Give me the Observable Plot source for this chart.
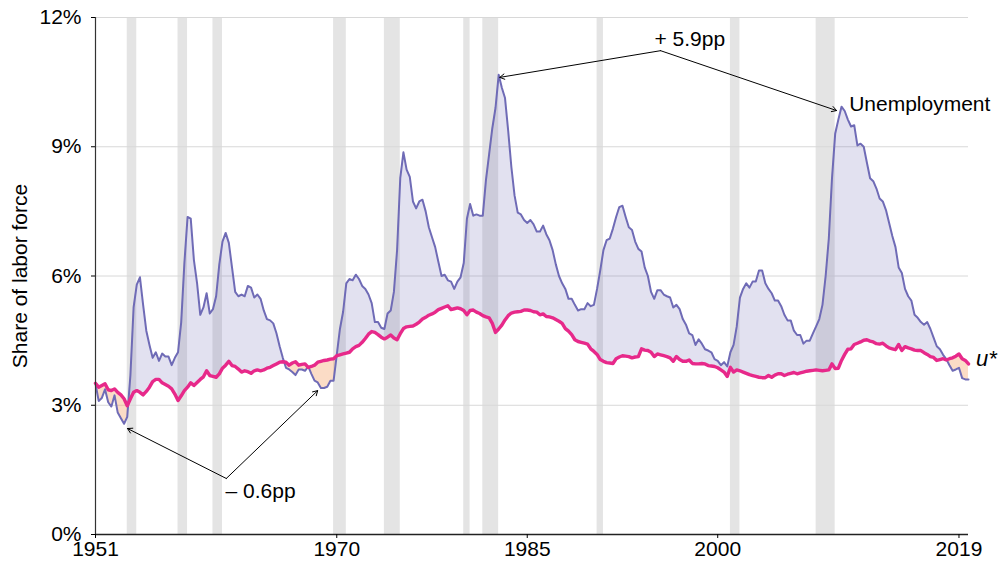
<!DOCTYPE html>
<html><head><meta charset="utf-8">
<script src="https://cdn.jsdelivr.net/npm/d3@7"></script>
<script src="https://cdn.jsdelivr.net/npm/@observablehq/plot@0.6"></script>
<style>body{margin:0;background:#fff;} #chart svg{display:block}</style>
</head><body><div id="chart"></div>
<script>
// Quarterly series, starting 1951Q1
const startYear = 1951;
const unemployment = [
3.50,3.10,3.17,3.37, 3.07,2.97,3.23,2.83, 2.70,2.57,2.73,3.70, 5.27,5.80,5.97,5.33,
4.73,4.40,4.10,4.23, 4.03,4.20,4.13,4.13, 3.93,4.10,4.23,4.93, 6.30,7.37,7.33,6.37,
5.83,5.10,5.27,5.60, 5.13,5.23,5.53,6.27, 6.80,7.00,6.77,6.20, 5.63,5.53,5.57,5.53,
5.77,5.73,5.50,5.57, 5.47,5.20,5.00,4.97, 4.90,4.67,4.37,4.10, 3.87,3.83,3.77,3.70,
3.83,3.83,3.80,3.90, 3.73,3.57,3.53,3.40, 3.40,3.43,3.57,3.57, 4.17,4.77,5.17,5.83,
5.93,5.90,6.03,5.93, 5.77,5.70,5.57,5.37, 4.93,4.93,4.80,4.77, 5.13,5.20,5.63,6.60,
8.27,8.87,8.47,8.30, 7.73,7.57,7.73,7.77, 7.50,7.13,6.90,6.67, 6.33,6.00,6.03,5.90,
5.87,5.70,5.87,5.97, 6.30,7.33,7.67,7.40, 7.43,7.40,7.40,8.23, 8.83,9.43,9.90,10.67,
10.37,10.13,9.37,8.53, 7.87,7.47,7.43,7.30, 7.23,7.30,7.20,7.03, 7.03,7.17,6.97,6.83,
6.60,6.27,6.00,5.83, 5.70,5.47,5.47,5.33, 5.20,5.23,5.23,5.37, 5.30,5.33,5.70,6.13,
6.60,6.83,6.87,7.10, 7.37,7.60,7.63,7.37, 7.13,7.07,6.80,6.63, 6.57,6.20,6.00,5.63,
5.47,5.67,5.67,5.57, 5.53,5.50,5.27,5.33, 5.23,5.00,4.87,4.67, 4.63,4.40,4.53,4.43,
4.30,4.27,4.23,4.07, 4.03,3.93,4.00,3.90, 4.23,4.40,4.83,5.50, 5.70,5.83,5.73,5.87,
5.87,6.13,6.13,5.83, 5.70,5.60,5.43,5.43, 5.30,5.10,4.97,4.97, 4.73,4.63,4.63,4.43,
4.50,4.50,4.67,4.83, 5.00,5.33,6.00,6.87, 8.27,9.30,9.63,9.93, 9.83,9.63,9.47,9.50,
9.03,9.07,9.00,8.63, 8.27,8.20,8.03,7.80, 7.73,7.53,7.23,6.93, 6.67,6.20,6.07,5.70,
5.53,5.43,5.10,5.03, 4.93,4.87,4.93,4.77, 4.57,4.37,4.30,4.17, 4.07,3.93,3.80,3.83,
3.87,3.63,3.60,3.60
];
const uStar = [
3.51,3.42,3.46,3.50, 3.36,3.34,3.38,3.30, 3.24,3.15,2.99,3.15, 3.30,3.34,3.30,3.24,
3.32,3.42,3.55,3.60, 3.60,3.52,3.48,3.44, 3.38,3.26,3.11,3.22, 3.34,3.42,3.52,3.46,
3.53,3.60,3.66,3.80, 3.69,3.67,3.65,3.73, 3.86,3.93,4.02,3.92, 3.90,3.84,3.77,3.80,
3.78,3.74,3.80,3.82, 3.80,3.82,3.86,3.88, 3.92,3.96,4.00,4.01, 4.00,3.93,3.98,4.01,
3.93,3.95,3.96,3.88, 3.90,3.93,4.00,4.02, 4.04,4.05,4.07,4.08, 4.15,4.17,4.19,4.21,
4.23,4.31,4.36,4.39, 4.46,4.55,4.65,4.71, 4.69,4.64,4.58,4.54, 4.58,4.63,4.56,4.52,
4.66,4.78,4.82,4.83, 4.84,4.88,4.93,5.00, 5.04,5.09,5.12,5.16, 5.22,5.25,5.28,5.31,
5.22,5.24,5.26,5.24, 5.20,5.10,5.20,5.21, 5.16,5.13,5.08,5.05, 5.03,4.90,4.69,4.77,
4.86,4.98,5.08,5.14, 5.16,5.17,5.18,5.21, 5.21,5.20,5.17,5.16, 5.10,5.12,5.06,5.05,
5.03,4.99,4.95,4.90, 4.78,4.72,4.64,4.52, 4.48,4.46,4.44,4.42, 4.31,4.25,4.18,4.06,
4.02,3.99,3.98,3.97, 4.08,4.12,4.15,4.14, 4.13,4.10,4.12,4.13, 4.31,4.28,4.27,4.23,
4.13,4.19,4.17,4.15, 4.13,4.10,4.02,4.13, 4.06,4.02,4.02,4.05, 3.97,3.96,3.96,3.97,
3.96,3.92,3.91,3.90, 3.87,3.82,3.77,3.67, 3.88,3.77,3.82,3.80, 3.77,3.74,3.71,3.69,
3.67,3.65,3.64,3.64, 3.69,3.65,3.70,3.73, 3.73,3.69,3.72,3.74, 3.76,3.73,3.75,3.77,
3.79,3.80,3.81,3.82, 3.81,3.80,3.81,3.82, 3.96,3.85,3.86,4.04, 4.18,4.30,4.31,4.41,
4.44,4.47,4.51,4.52, 4.49,4.47,4.43,4.42, 4.44,4.38,4.33,4.31, 4.29,4.41,4.27,4.36,
4.33,4.31,4.28,4.27, 4.27,4.22,4.18,4.13, 4.11,4.04,4.06,4.08, 4.05,4.08,4.10,4.14,
4.19,4.08,4.04,3.96
];
// NBER recessions (peak quarter -> trough quarter)
const recessionStart = [1953.5, 1957.5, 1960.25, 1969.75, 1973.75, 1980.0, 1981.5, 1990.5, 2001.0, 2007.75];
const recessionEnd   = [1954.25, 1958.25, 1961.0, 1970.75, 1975.0, 1980.5, 1982.75, 1991.0, 2001.75, 2009.25];
const xTicks = [1951, 1970, 1985, 2000, 2019];
const yTicks = [0, 3, 6, 9, 12];
const gridValues = [3, 6, 9, 12];
// annotations (data coordinates)
const gapLabels = ["+ 5.9pp", "\u2013 0.6pp"];
const gapLabelX = [1997.8, 1964.0];
const gapLabelY = [11.5, 1.0];
const arrowFromX = [1995.5, 1995.5, 1961.3, 1961.3];
const arrowFromY = [11.23, 11.23, 1.30, 1.30];
const arrowToX = [1982.84, 2009.36, 1953.52, 1968.5];
const arrowToY = [10.61, 9.84, 2.46, 3.34];

const rows = unemployment.map((u, i) => ({t: startYear + i / 4, u, s: uStar[i]}));
// insert crossing points for the shaded gaps
const pts = [];
for (let i = 0; i < rows.length; i++) {
  const a = rows[i];
  pts.push(a);
  const b = rows[i + 1];
  if (b) {
    const da = a.u - a.s, db = b.u - b.s;
    if (da * db < 0) {
      const f = da / (da - db);
      const v = a.u + f * (b.u - a.u);
      pts.push({t: a.t + f * (b.t - a.t), u: v, s: v});
    }
  }
}
const recessions = recessionStart.map((s, i) => ({s, e: recessionEnd[i]}));
const labels = gapLabels.map((l, i) => ({l, x: gapLabelX[i], y: gapLabelY[i]}));
const arrows = arrowFromX.map((x1, i) => ({x1, y1: arrowFromY[i], x2: arrowToX[i], y2: arrowToY[i]}));

const purple = "#6f6bb6", pink = "#e7298a";
const font = "'Liberation Sans', Arial, Helvetica, sans-serif";

const chart = Plot.plot({
  width: 1000, height: 574,
  marginLeft: 95, marginRight: 32, marginTop: 17, marginBottom: 40,
  style: {fontFamily: font, fontSize: "21px", color: "#000", background: "#fff"},
  x: {domain: [1951, 2019.75]},
  y: {domain: [0, 12]},
  marks: [
    Plot.rectX(recessions, {x1: "s", x2: "e", fill: "#e4e4e4"}),
    Plot.ruleY(gridValues, {stroke: "#d8d8d8", strokeWidth: 1}),
    Plot.areaY(pts, {x: "t", y1: "s", y2: d => Math.max(d.u, d.s), fill: purple, fillOpacity: 0.2}),
    Plot.areaY(pts, {x: "t", y1: d => Math.min(d.u, d.s), y2: "s", fill: "#f39a5c", fillOpacity: 0.35}),
    Plot.lineY(rows, {x: "t", y: "u", stroke: purple, strokeWidth: 2}),
    Plot.lineY(rows, {x: "t", y: "s", stroke: pink, strokeWidth: 3.4}),
    Plot.ruleX([1951], {y1: 0, y2: 12, stroke: "#333", strokeWidth: 1.2}),
    Plot.ruleY([0], {stroke: "#222", strokeWidth: 1.6}),
    Plot.axisY({ticks: yTicks, tickFormat: d => d + "%", tickSize: 4, tickPadding: 10, label: null, fontSize: 21}),
    Plot.axisX({ticks: xTicks, tickFormat: d => String(d), tickSize: 4, tickPadding: 3, label: null, fontSize: 21}),
    Plot.text(["Share of labor force"], {frameAnchor: "left", textAnchor: "middle", dx: -75, rotate: -90, fontSize: 21}),
    Plot.arrow(arrows, {x1: "x1", y1: "y1", x2: "x2", y2: "y2", stroke: "#000", strokeWidth: 1, headLength: 8}),
    Plot.text(labels, {x: "x", y: "y", text: "l", fontSize: 21}),
    Plot.text(["Unemployment"], {x: 2010.35, y: 9.98, textAnchor: "start", fontSize: 21}),
    Plot.text(["u*"], {x: 2020.35, y: 4.08, textAnchor: "start", fontSize: 22, fontStyle: "italic"})
  ]
});
document.getElementById("chart").appendChild(chart);
</script>
</body></html>
